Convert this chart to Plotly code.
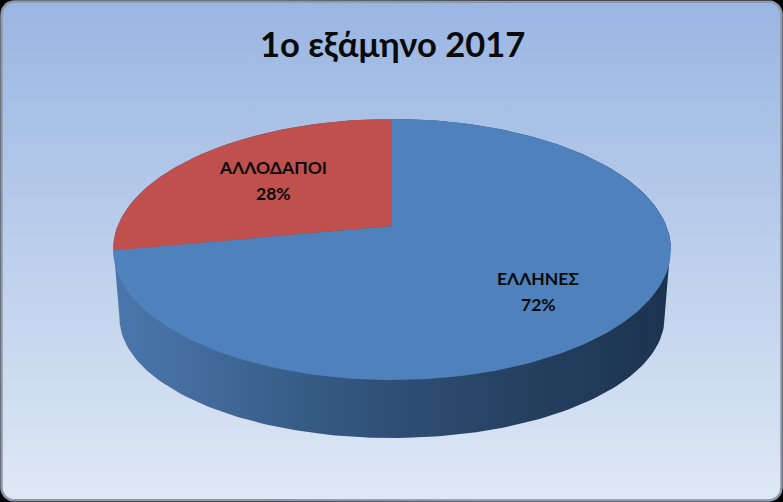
import numpy as np
import plotly.graph_objects as go

# --- data ---
categories = ["ΕΛΛΗΝΕΣ", "ΑΛΛΟΔΑΠΟΙ"]
values = [72, 28]
slice_colors = ["#4f81bd", "#c0504d"]
title_text = "1ο εξάμηνο 2017"

W, H = 783, 502
FONT = "Lato, Carlito, 'Open Sans', sans-serif"

# --- projection of the pie disc (perspective view) ---
CX, CY = 392.0, 226.0
K, ALPHA, C = 274.4, 126.3, 0.18


def project(theta_deg):
    t = np.radians(theta_deg)
    d = 1 + C * np.cos(t)
    return CX + K * np.sin(t) / d, CY - ALPHA * np.cos(t) / d


total = sum(values)
bounds = np.cumsum([0] + values) / total * 360

fig = go.Figure()

# --- rounded background panel ---
r, m = 13, 1.5
cs = np.radians(np.arange(0, 91, 10))
bx = np.concatenate([
    m + r - r * np.cos(cs), W - m - r + r * np.sin(cs),
    W - m - r + r * np.cos(cs), m + r - r * np.sin(cs)])
by = np.concatenate([
    m + r - r * np.sin(cs), m + r - r * np.cos(cs),
    H - m - r + r * np.sin(cs), H - m - r + r * np.cos(cs)])
fig.add_trace(go.Scatter(
    x=np.append(bx, bx[0]), y=np.append(by, by[0]), mode="lines",
    line=dict(color="#8d97a8", width=2.5), fill="toself",
    fillgradient=dict(type="vertical", colorscale=[[0, "#dfe8f5"], [1, "#99b5e2"]]),
    hoverinfo="skip", showlegend=False))

# --- side wall of the pie ---
tx, ty = project(np.linspace(262, 458, 121)[::-1])
wrx, wry, wcy = 272.5, 120.0, 318.0
wa = np.radians(np.linspace(-90, 90, 121))
wx = CX + wrx * np.sin(wa)
wy = wcy + wry * np.cos(wa)
fig.add_trace(go.Scatter(
    x=np.concatenate([tx[::-1], wx[::-1]]),
    y=np.concatenate([ty[::-1], wy[::-1]]),
    mode="lines", line=dict(width=0), fill="toself",
    fillgradient=dict(type="horizontal", colorscale=[
        [0, "#4a76ad"], [0.12, "#456fa0"], [0.35, "#365b85"],
        [0.55, "#2c4c71"], [0.75, "#24405f"], [1, "#1c3350"]]),
    hoverinfo="skip", showlegend=False))

# --- top face slices ---
for name, val, col, a0, a1 in zip(categories, values, slice_colors, bounds[:-1], bounds[1:]):
    th = np.linspace(a0, a1, 241)
    x, y = project(th)
    fig.add_trace(go.Scatter(
        x=np.concatenate([[CX], x, [CX]]), y=np.concatenate([[CY], y, [CY]]),
        mode="lines", line=dict(width=0), fill="toself", fillcolor=col,
        name=name, text=f"{name}: {val}%", hoverinfo="text", showlegend=False))

# --- labels ---
label_pos = [(538, 278), (273, 167)]
for name, val, (lx, ly) in zip(categories, values, label_pos):
    fig.add_annotation(x=lx, y=ly, xref="x", yref="y", showarrow=False,
                       text=f"<b>{name}</b>",
                       font=dict(family=FONT, size=17.5, color="#0a0a0a"))
    fig.add_annotation(x=lx, y=ly + 26, xref="x", yref="y", showarrow=False,
                       text=f"<b>{val}%</b>",
                       font=dict(family=FONT, size=17.5, color="#0a0a0a"))

fig.add_annotation(x=392, y=43, xref="x", yref="y", showarrow=False,
                   text=f"<b>{title_text}</b>",
                   font=dict(family=FONT, size=34.5, color="#0a0a0a"))

fig.update_layout(
    width=W, height=H, margin=dict(l=0, r=0, t=0, b=0),
    paper_bgcolor="#000000", plot_bgcolor="#000000", showlegend=False,
    xaxis=dict(range=[0, W], visible=False, fixedrange=True),
    yaxis=dict(range=[H, 0], visible=False, fixedrange=True),
)
fig.write_html("out.html", config={"displayModeBar": False},
               post_script="document.body.style.margin='0';document.body.style.background='#000';document.body.style.overflow='hidden';")
